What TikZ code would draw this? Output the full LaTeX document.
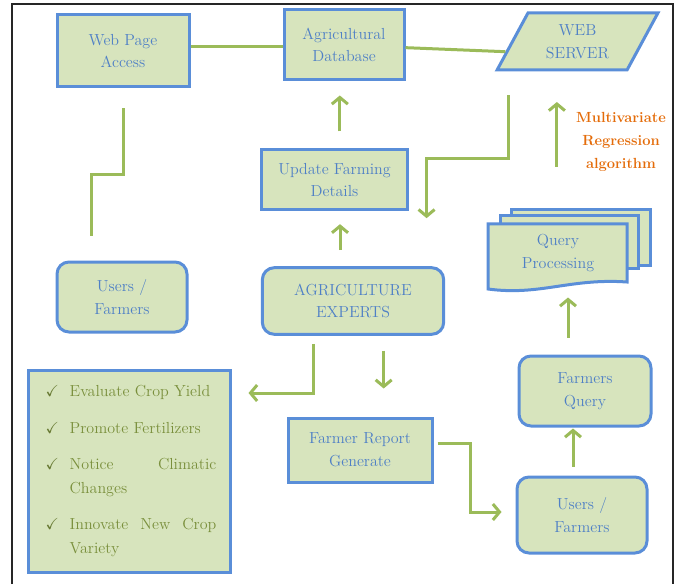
\documentclass[tikz,border=0pt]{standalone}
\usepackage{amssymb}
\usetikzlibrary{shapes.geometric,arrows.meta,calc}

\definecolor{boxgreen}{HTML}{D7E4BD}
\definecolor{boxblue}{HTML}{5A8ED8}
\definecolor{txtblue}{HTML}{4F80C6}
\definecolor{lnkgreen}{HTML}{9BBB59}
\definecolor{algorange}{HTML}{E46C0A}
\definecolor{olivetxt}{HTML}{7A8F3C}

\newlength{\chkw}
\setlength{\chkw}{21pt}
\newcommand{\chk}{\makebox[\chkw][l]{\hspace{3pt}\checkmark}}

\begin{document}
\begin{tikzpicture}[x=0.75pt, y=-0.75pt,
    b/.style={rectangle, draw=boxblue, fill=boxgreen, line width=2.25pt, text=txtblue, align=center, inner sep=2pt, font=\fontsize{12}{17}\selectfont},
    rb/.style={b, rounded corners=9pt},
    link/.style={draw=lnkgreen, line width=2.25pt},
    arr/.style={link, -{Straight Barb[length=5pt, width=12pt]}}]
    \useasboundingbox (0,0) rectangle (680,584);
    \draw[line width=1.2pt, black!85] (12,584) -- (12,4) -- (673,4) -- (673,584);

    \node[b, minimum width=99pt, minimum height=54pt] (wpa) at (123,51) {Web Page\\Access};
    \node[b, minimum width=90pt, minimum height=52.5pt] (agdb) at (344,45) {Agricultural\\Database};
    \node[b, trapezium, trapezium left angle=61.5, trapezium right angle=118.5, trapezium stretches=true, minimum width=120.75pt, minimum height=42.75pt] (srv) at (577.5,41.5) {WEB\\SERVER};
    \node[b, minimum width=110pt, minimum height=45pt] (upd) at (334.5,180) {Update Farming\\Details};
    \node[rb, minimum width=97.5pt, minimum height=52.5pt] (usrl) at (122,297) {Users /\\Farmers};
    \node[rb, minimum width=136pt, minimum height=50pt] (exp) at (353,301) {AGRICULTURE\\EXPERTS};
    \node[b, minimum width=108pt, minimum height=48pt] (rep) at (360,450) {Farmer Report\\Generate};
    \node[rb, minimum width=99pt, minimum height=52.5pt] (fq) at (585,391) {Farmers\\Query};
    \node[rb, minimum width=97.5pt, minimum height=57pt] (usrr) at (582,515) {Users /\\Farmers};
    \node[align=center, text=algorange, font=\bfseries\fontsize{11}{17.5}\selectfont] (mra) at (621,142) {Multivariate\\Regression\\algorithm};

    % query processing pages
    \filldraw[draw=boxblue, fill=boxgreen, line width=2.25pt] (511,210) rectangle (650,265);
    \filldraw[draw=boxblue, fill=boxgreen, line width=2.25pt] (500,216) rectangle (638,268);
    \filldraw[draw=boxblue, fill=boxgreen, line width=2.25pt] (488,224) -- (627,224) -- (627,282) .. controls (570,278) and (540,296) .. (488,289) -- cycle;
    \node[align=center, text=txtblue, font=\fontsize{12}{17}\selectfont] (qp) at (558,253) {Query\\Processing};

    \node[b, text=olivetxt, minimum width=151.5pt, minimum height=151.5pt, text width=131pt, align=left, font=\fontsize{12}{18}\selectfont] (tasks) at (129,471) {\textcolor{olivetxt!85!black}{\chk}Evaluate Crop Yield\\[9.5pt]
        \textcolor{olivetxt!85!black}{\chk}Promote Fertilizers\\[9.5pt]
        \textcolor{olivetxt!85!black}{\chk}Notice\hfill Climatic\\
        \hspace*{\chkw}Changes\\[9pt]
        \textcolor{olivetxt!85!black}{\chk}Innovate\hfill New\hfill Crop\\
        \hspace*{\chkw}Variety};

    \draw[link] ([yshift=3pt]wpa.east) -- ([yshift=3pt]wpa.east -| agdb.west);
    \draw[link] ([yshift=-2pt]agdb.east) -- ($(srv.bottom left corner)!0.33!(srv.top left corner)$);
    \draw[link] ([yshift=-15pt]wpa.south) -- ++(0,-49.5pt) -| ([shift={(-23pt,18pt)}]usrl.north);
    \draw[arr] ([shift={(4pt,12.75pt)}]upd.north) -- ++(0,27pt);
    \draw[arr] ([shift={(-9.75pt,12pt)}]exp.north) -- ++(0,19.5pt);
    \draw[arr] ([shift={(10.5pt,-18pt)}]srv.bottom left corner) -- ++(0,-47pt) -| ++(-61.5pt,-45pt);
    \draw[arr] ([xshift=-11pt, yshift=-18.75pt]mra.west) -- ++(0,48.75pt);
    \draw[arr] ([shift={(-12.75pt,12.75pt)}]fq.north) -- ++(0,30pt);
    \draw[arr] ([shift={(-6.75pt,6.75pt)}]usrr.north) -- ++(0,28.5pt);
    \draw[arr] ([shift={(3pt,5.25pt)}]rep.east) -- ++(24.75pt,0) |- ([shift={(-10.5pt,2.25pt)}]usrr.west);
    \draw[arr] ([shift={(23pt,-11pt)}]exp.south) -- ++(0,-28.5pt);
    \draw[arr] ([shift={(-30pt,-6pt)}]exp.south) |- ([shift={(12.75pt,58.5pt)}]tasks.east);
\end{tikzpicture}
\end{document}
